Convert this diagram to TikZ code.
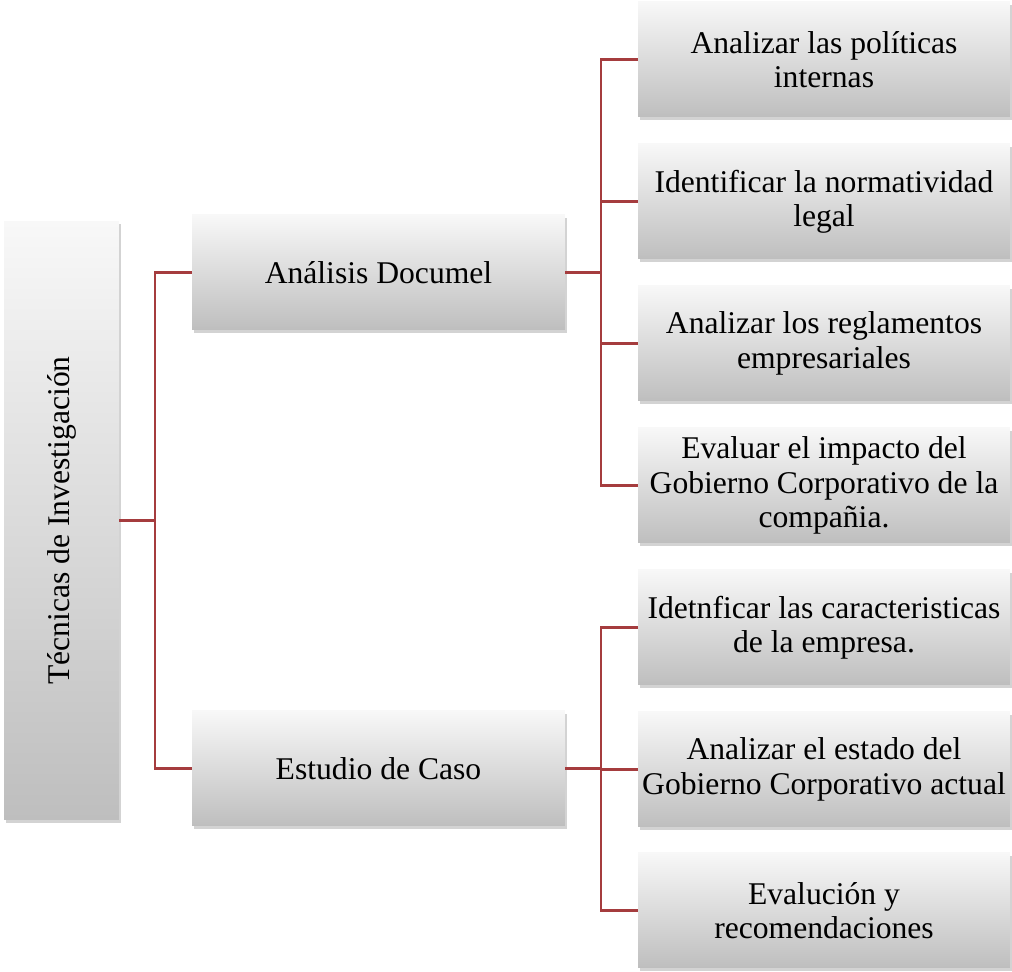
\documentclass[tikz,border=0pt]{standalone}
\usepackage{xcolor}
\usepackage{fontspec}
\setmainfont{Liberation Serif}
\usetikzlibrary{shadows}
\definecolor{boxtop}{RGB}{248,248,248}
\definecolor{boxbot}{RGB}{190,190,190}
\definecolor{linkred}{RGB}{165,60,62}

\begin{document}
\begin{tikzpicture}[x=0.02cm,y=0.02cm]
			\tikzstyle{box} = [top color=boxtop, bottom color=boxbot, draw=none, align=center, inner sep=0pt,
				drop shadow={opacity=0.35, shadow xshift=1.2pt, shadow yshift=-1.6pt},
				font=\fontsize{18pt}{19.5pt}\selectfont]
			\tikzstyle{mid} = [box, minimum width=7.46cm, minimum height=2.3cm]
			\tikzstyle{leaf} = [box, minimum width=7.44cm, minimum height=2.3cm]
			\tikzset{edge/.style = {draw=linkred, line width=1.4pt}}
			\useasboundingbox (0,0) rectangle (1012,972);
			
			\node[box, minimum width=2.3cm, minimum height=11.98cm](root) at (61.5,451.5) {};
			\node[rotate=90, font=\fontsize{18pt}{19.5pt}\selectfont](roottext) at (root) {Técnicas de Investigación};
			
			\node[mid](docu) at (378.5,699.5) {Análisis Documel};
			\node[mid](caso) at (378.5,203.5) {Estudio de Caso};
			
			\node[leaf](pol) at (824,912.5) {Analizar las políticas\\internas};
			\node[leaf](norm) at (824,770.5) {Identificar la normatividad\\legal};
			\node[leaf](regl) at (824,628.5) {Analizar los reglamentos\\empresariales};
			\node[leaf](imp) at (824,486.5) {Evaluar el impacto del\\Gobierno Corporativo de la\\compañia.};
			\node[leaf](car) at (824,344.5) {Idetnficar las caracteristicas\\de la empresa.};
			\node[leaf](est) at (824,202.5) {Analizar el estado del\\Gobierno Corporativo actual};
			\node[leaf](rec) at (824,61.5) {Evalución y\\recomendaciones};
			
			\coordinate(j0) at (155,451.5);
			\coordinate(j1) at (601,699.5);
			\coordinate(j2) at (601,203.5);
			
			\draw[edge](root.east) -- (j0) |- (docu.west);
			\draw[edge](j0) |- (caso.west);
			
			\draw[edge](docu.east) -- (j1) |- (pol.west);
			\draw[edge](j1) |- (norm.west);
			\draw[edge](j1) |- (regl.west);
			\draw[edge](j1) |- (imp.west);
			
			\draw[edge](caso.east) -- (j2) |- (car.west);
			\draw[edge](j2) |- (est.west);
			\draw[edge](j2) |- (rec.west);
			
			\end{tikzpicture}
\end{document}
